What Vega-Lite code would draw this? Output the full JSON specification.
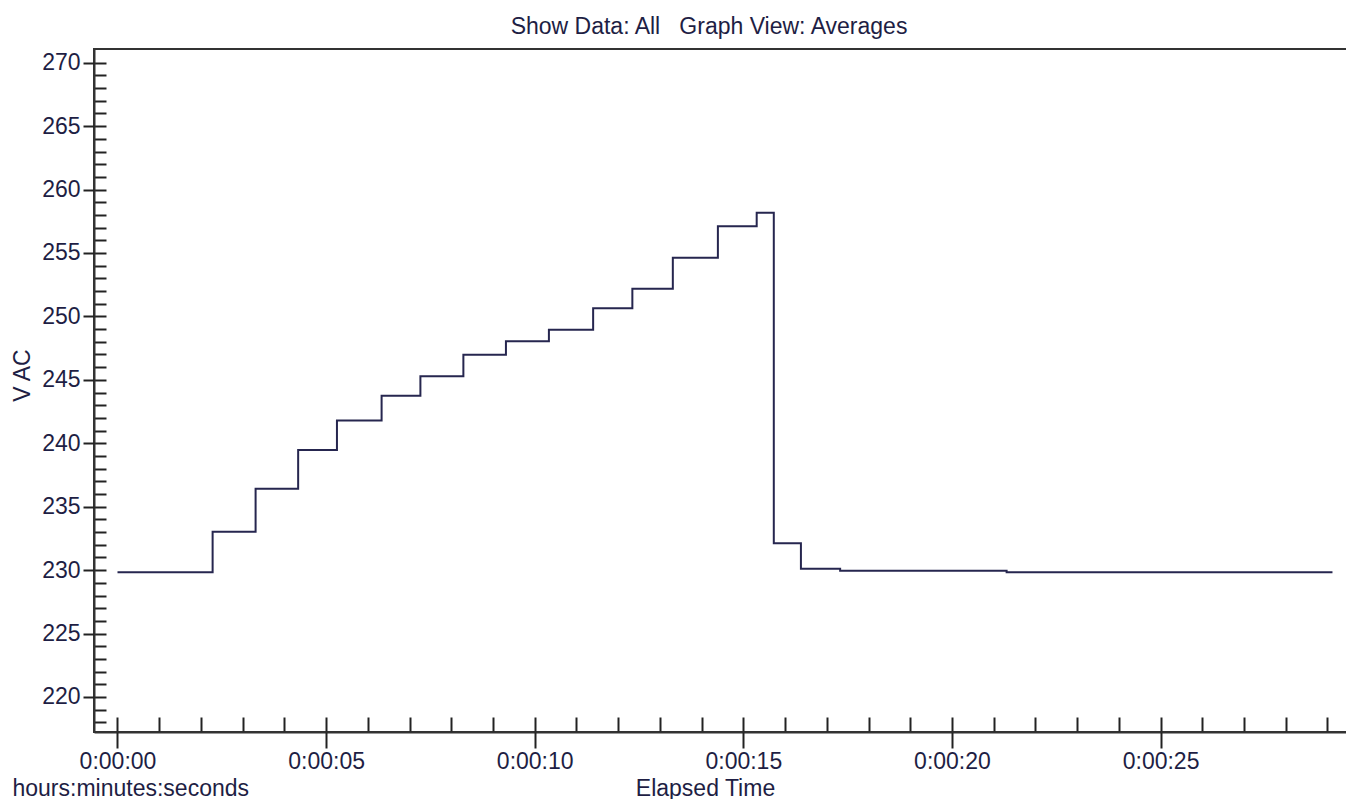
{
  "$schema": "https://vega.github.io/schema/vega-lite/v6.json",
  "width": 1256,
  "height": 683,
  "autosize": {"type": "none"},
  "padding": {"left": 94, "top": 49, "right": 0, "bottom": 67},
  "background": "white",
  "title": {
    "text": "Show Data: All\u00a0\u00a0\u00a0Graph View: Averages",
    "anchor": "middle",
    "frame": "group",
    "font": "Liberation Sans",
    "fontSize": 23,
    "fontWeight": "normal",
    "color": "#1e1e44",
    "baseline": "alphabetic",
    "offset": -8,
    "dx": -13
  },
  "config": {
    "view": {"stroke": "#333333", "strokeWidth": 2},
    "axis": {
      "grid": false,
      "domainColor": "#333333",
      "domainWidth": 2,
      "tickColor": "#222222",
      "tickWidth": 2,
      "labelFont": "Liberation Sans",
      "labelFontSize": 23,
      "labelColor": "#1e1e44",
      "labelFlush": false,
      "labelOverlap": false,
      "titleFont": "Liberation Sans",
      "titleFontSize": 23,
      "titleFontWeight": "normal",
      "titleColor": "#1e1e44"
    }
  },
  "data": {
    "values": [
      {"t": 0, "v": 229.83},
      {"t": 2.28, "v": 233.03},
      {"t": 3.31, "v": 236.42},
      {"t": 4.33, "v": 239.47},
      {"t": 5.26, "v": 241.8},
      {"t": 6.33, "v": 243.75},
      {"t": 7.26, "v": 245.28},
      {"t": 8.29, "v": 246.98},
      {"t": 9.31, "v": 248.04},
      {"t": 10.34, "v": 248.95},
      {"t": 11.4, "v": 250.64},
      {"t": 12.34, "v": 252.19},
      {"t": 13.31, "v": 254.63},
      {"t": 14.39, "v": 257.1},
      {"t": 15.32, "v": 258.18},
      {"t": 15.73, "v": 232.12},
      {"t": 16.38, "v": 230.11},
      {"t": 17.32, "v": 229.96},
      {"t": 21.31, "v": 229.83},
      {"t": 29.12, "v": 229.83}
    ]
  },
  "layer": [
    {
      "mark": {"type": "line", "interpolate": "step-after", "color": "#26264f", "strokeWidth": 2},
      "encoding": {
        "x": {
          "field": "t", "type": "quantitative",
          "scale": {"domain": [-0.563, 29.54], "nice": false, "zero": false},
          "axis": {
            "orient": "bottom",
            "values": [0,1,2,3,4,5,6,7,8,9,10,11,12,13,14,15,16,17,18,19,20,21,22,23,24,25,26,27,28,29],
            "tickSize": -15,
            "labels": false,
            "domain": true,
            "title": "hours:minutes:seconds",
            "titleX": -82,
            "titleY": 63,
            "titleAlign": "left",
            "titleBaseline": "alphabetic"
          }
        },
        "y": {
          "field": "v", "type": "quantitative",
          "scale": {"domain": [217.24, 271.08], "nice": false, "zero": false},
          "axis": {
            "orient": "left",
            "values": [218,219,220,221,222,223,224,225,226,227,228,229,230,231,232,233,234,235,236,237,238,239,240,241,242,243,244,245,246,247,248,249,250,251,252,253,254,255,256,257,258,259,260,261,262,263,264,265,266,267,268,269,270],
            "tickSize": -12,
            "labels": false,
            "domain": true,
            "title": null
          }
        }
      }
    },
    {
      "mark": {"type": "line", "interpolate": "step-after", "color": "#26264f", "strokeWidth": 2, "opacity": 0},
      "encoding": {
        "x": {
          "field": "t", "type": "quantitative",
          "axis": {
            "orient": "bottom",
            "values": [0,5,10,15,20,25],
            "tickSize": 16,
            "labelPadding": 2,
            "labelExpr": "'0:00:' + (datum.value < 10 ? '0' : '') + datum.value",
            "domain": false,
            "title": "Elapsed Time",
            "titleX": 611,
            "titleY": 63,
            "titleAlign": "center",
            "titleBaseline": "alphabetic"
          }
        },
        "y": {
          "field": "v", "type": "quantitative",
          "axis": {
            "orient": "left",
            "values": [220,225,230,235,240,245,250,255,260,265,270],
            "tickSize": 11,
            "labelPadding": 3,
            "domain": false,
            "title": "V AC",
            "titleAngle": 270,
            "titleX": -72,
            "titleY": 326,
            "titleAlign": "center",
            "titleBaseline": "middle"
          }
        }
      }
    }
  ],
  "resolve": {"axis": {"x": "independent", "y": "independent"}}
}
